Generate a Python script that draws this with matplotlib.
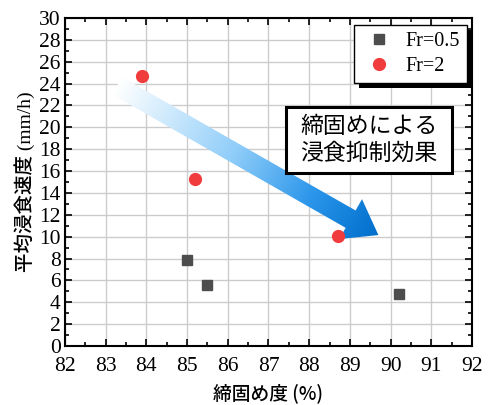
import numpy as np
import matplotlib
matplotlib.use("Agg")
import matplotlib.pyplot as plt
from matplotlib.patches import Polygon, Rectangle
from matplotlib.colors import LinearSegmentedColormap
from matplotlib.ticker import MultipleLocator

# data
fr05_x = [85.0, 85.5, 90.2]
fr05_y = [7.9, 5.6, 4.8]
fr2_x = [83.9, 85.2, 88.7]
fr2_y = [24.7, 15.3, 10.1]

labels = ["Fr=0.5", "Fr=2"]
note = "締固めによる\n浸食抑制効果"
xlabel = "締固め度 (%)"
ylabel = "平均浸食速度 (mm/h)"

serif = ["Liberation Serif", "Noto Sans CJK JP"]
jp = ["Noto Sans CJK JP", "Liberation Serif"]

fig = plt.figure(figsize=(4.89, 4.05), dpi=100)
ax = fig.add_axes([65 / 489, 59 / 405, 407 / 489, 328 / 405])
ax.set_xlim(82, 92)
ax.set_ylim(0, 30)

ax.xaxis.set_major_locator(MultipleLocator(1))
ax.xaxis.set_minor_locator(MultipleLocator(0.5))
ax.yaxis.set_major_locator(MultipleLocator(2))
ax.yaxis.set_minor_locator(MultipleLocator(1))
ax.tick_params(which="both", direction="in", top=True, right=True, width=1.2)
ax.tick_params(which="major", length=5, labelsize=15.5)
ax.tick_params(axis="x", which="major", pad=8)
ax.tick_params(axis="y", which="major", pad=3)
ax.tick_params(which="minor", length=3)
for lab in ax.get_xticklabels() + ax.get_yticklabels():
    lab.set_family(serif)
for sp in ax.spines.values():
    sp.set_linewidth(1.5)
ax.grid(True, which="major", color="#cccccc", linewidth=1)
ax.set_axisbelow(True)

# gradient arrow
start = (83.28, 23.8)
end = (89.7, 10.15)
p0 = ax.transData.transform(start)
p1 = ax.transData.transform(end)
d = p1 - p0
L = np.hypot(*d)
u = d / L
n = np.array([-u[1], u[0]])
body_w, head_w, head_l = 20, 46, 32
hb = p1 - u * head_l
pts = [p0 + n * body_w / 2, hb + n * body_w / 2, hb + n * head_w / 2, p1,
       hb - n * head_w / 2, hb - n * body_w / 2, p0 - n * body_w / 2]
pts_data = ax.transData.inverted().transform(np.array(pts))
arrow = Polygon(pts_data, closed=True, facecolor="none", edgecolor="none")
ax.add_patch(arrow)

x0, y0 = pts_data.min(axis=0)
x1, y1 = pts_data.max(axis=0)
gx, gy = np.meshgrid(np.linspace(x0, x1, 300), np.linspace(y1, y0, 300))
disp = ax.transData.transform(np.column_stack([gx.ravel(), gy.ravel()]))
t = ((disp - p0) @ u / L).reshape(gx.shape)
cmap = LinearSegmentedColormap.from_list(
    "arr", [(0, "#ffffff"), (0.45, "#8fcdf9"), (0.75, "#2a95ea"), (1, "#006fcc")])
im = ax.imshow(t, extent=[x0, x1, y0, y1], cmap=cmap, vmin=0, vmax=1,
               aspect="auto", zorder=2, interpolation="bilinear")
im.set_clip_path(arrow)
ax.set_xlim(82, 92)
ax.set_ylim(0, 30)

ax.plot(fr05_x, fr05_y, "s", color="#4d4d4d", markersize=7.5, label=labels[0], zorder=3)
ax.plot(fr2_x, fr2_y, "o", color="#f03c3c", markersize=8.5, label=labels[1], zorder=3)

leg = ax.legend(loc="upper right", bbox_to_anchor=(1 - 5 / 407, 1 - 7 / 328),
                borderaxespad=0, prop={"family": serif, "size": 14.5},
                fancybox=False, edgecolor="black", framealpha=1,
                handlelength=1.8, handletextpad=0.4, borderpad=0.35, labelspacing=0.3)
leg.get_frame().set_linewidth(1)
leg.set_zorder(6)

# note box
ax.add_patch(Rectangle((87.43, 15.83), 4.08, 6.04, facecolor="white",
                       edgecolor="black", linewidth=2.2, zorder=4))
ax.text(89.47, 18.85, note, ha="center", va="center", fontsize=16.5, family=jp,
        linespacing=1.2, zorder=5)

ax.set_xlabel(xlabel, family=jp, fontsize=13.5, fontweight="medium", labelpad=5)
ax.set_ylabel(ylabel, family=serif, fontsize=14, fontweight="medium", labelpad=3)

# black drop shadow behind legend
fig.canvas.draw()
bb = leg.get_window_extent()
shadow = Rectangle((bb.x0 + 5, bb.y0 - 5), bb.width, bb.height, transform=None,
                   facecolor="black", edgecolor="none", zorder=5.9, clip_on=False)
ax.add_artist(shadow)

fig.savefig("out.png", dpi=100)
